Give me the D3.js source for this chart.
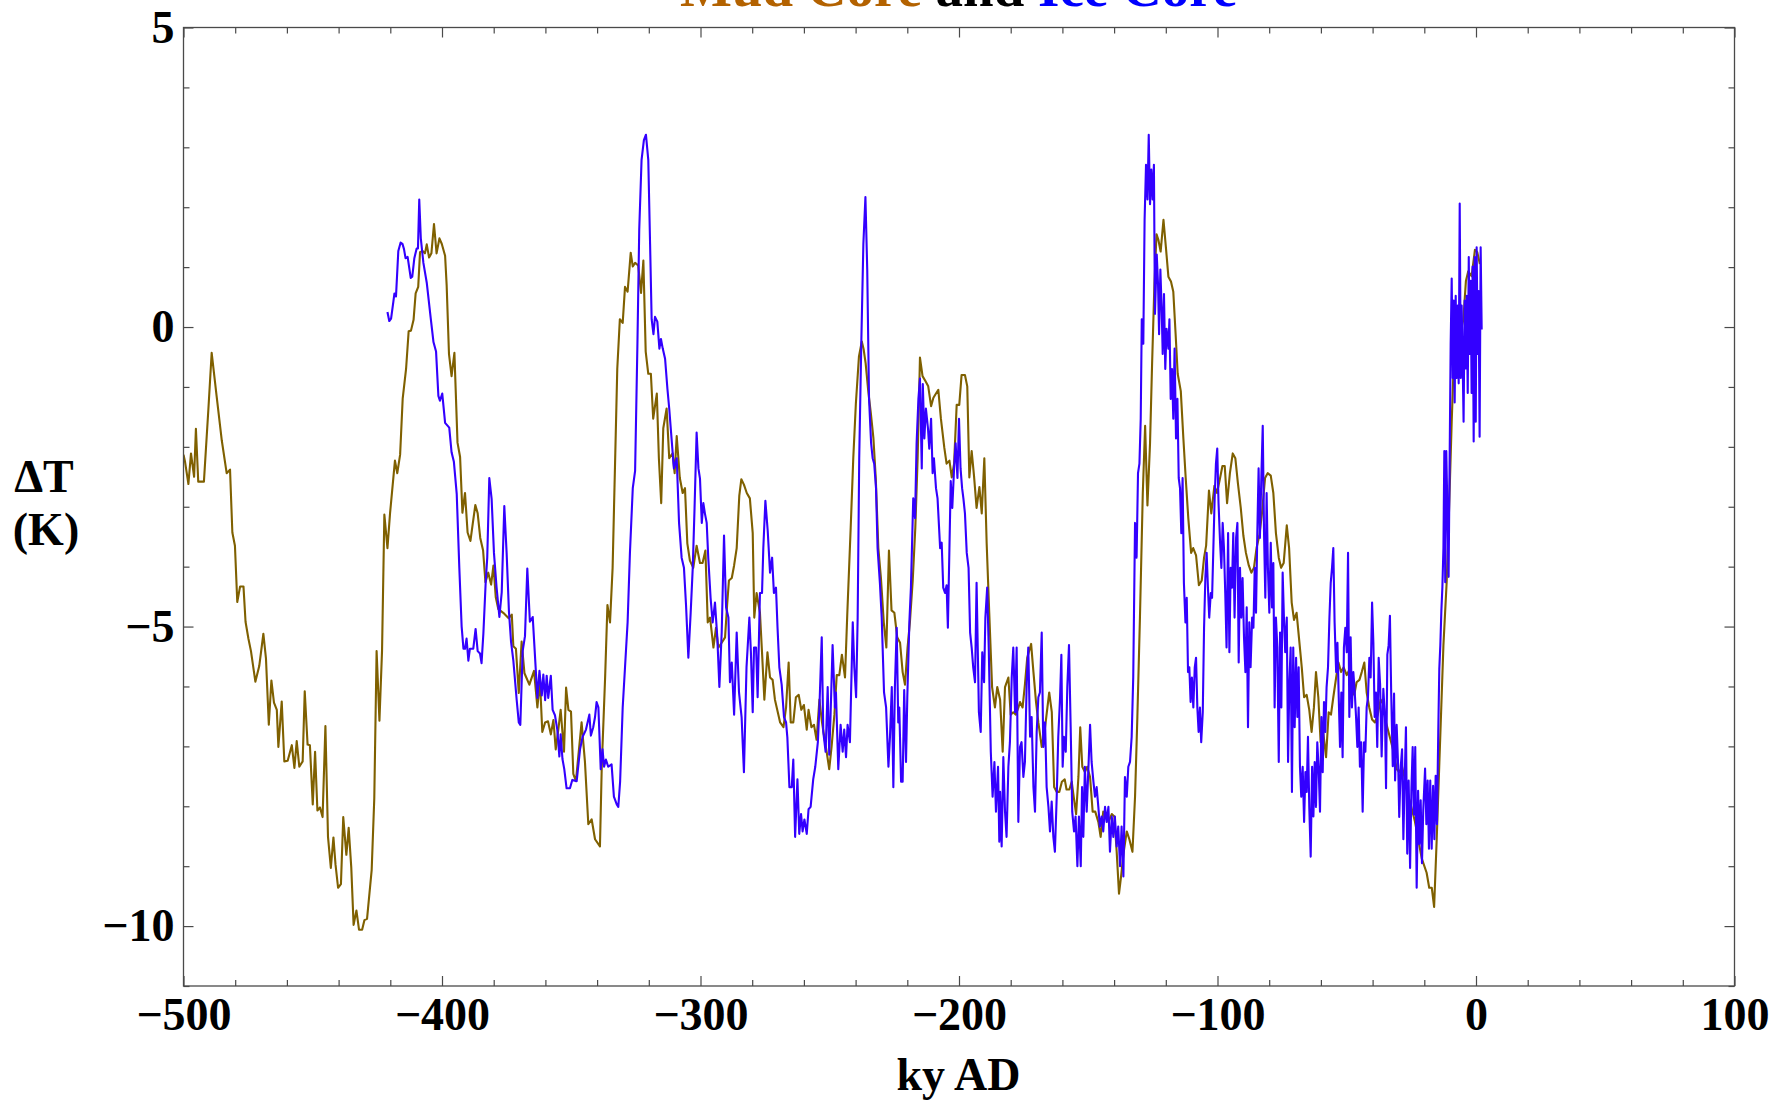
<!DOCTYPE html>
<html><head><meta charset="utf-8">
<script src="https://cdn.jsdelivr.net/npm/d3@7"></script>
<style>
html,body{margin:0;padding:0;background:#fff;overflow:hidden;}
text{font-family:"Liberation Serif","Times New Roman",serif;font-weight:bold;}
</style></head>
<body>
<svg id="chart" width="1784" height="1101"></svg>
<script>
// ---- tick values / labels ----
const xMajor = [-500,-400,-300,-200,-100,0,100];
const xLabels = ["\u2212500","\u2212400","\u2212300","\u2212200","\u2212100","0","100"];
const xMinor = [-480,-460,-440,-420,-380,-360,-340,-320,-280,-260,-240,-220,-180,-160,-140,-120,-80,-60,-40,-20,20,40,60,80];
const yMajor = [-10,-5,0,5];
const yLabels = ["\u221210","\u22125","0","5"];
const yMinor = [-11,-9,-8,-7,-6,-4,-3,-2,-1,1,2,3,4];
const titleParts = [["Mud Core","#b36200"],[" and ","#000000"],["Ice Core","#0000ff"]];

// ---- series: [ky AD, Delta T (K)] ----
const mudCore = [
[-500,-2.13],[-499.4,-2.25],[-498.1,-2.62],[-497.1,-2.11],[-495.9,-2.50],[-495.2,-1.70],[-494.3,-2.58],[-492.1,-2.58],[-490.4,-1.39],[-489.1,-0.43],[-487.2,-1.15],[-485.2,-1.89],[-483.3,-2.44],[-482.0,-2.38],[-481.1,-3.43],[-480.1,-3.65],[-479.2,-4.59],[-478.1,-4.33],[-476.8,-4.33],[-476.0,-4.92],[-474.9,-5.20],[-473.9,-5.41],[-472.2,-5.92],[-470.7,-5.66],[-469.1,-5.12],[-468.1,-5.53],[-467.0,-6.64],[-466.0,-5.90],[-465.0,-6.27],[-463.9,-6.39],[-463.3,-7.01],[-462.0,-6.25],[-461.0,-7.25],[-459.7,-7.24],[-458.1,-6.98],[-457.1,-7.36],[-456.2,-6.91],[-455.2,-7.34],[-453.9,-7.25],[-453.1,-6.08],[-452.0,-6.97],[-451.1,-6.98],[-450.0,-7.97],[-449.1,-7.09],[-448.2,-8.07],[-447.2,-8.02],[-446.2,-8.18],[-445.1,-6.66],[-444.1,-8.51],[-443.0,-9.03],[-442.0,-8.52],[-441.2,-8.97],[-440.2,-9.36],[-439.1,-9.30],[-438.2,-8.18],[-437.0,-8.81],[-436.1,-8.36],[-435.1,-9.02],[-434.2,-9.98],[-433.1,-9.74],[-432.1,-10.06],[-430.9,-10.06],[-430.0,-9.90],[-429.0,-9.88],[-427.2,-9.06],[-426.2,-7.87],[-425.3,-5.41],[-424.2,-6.57],[-423.2,-5.41],[-422.3,-3.13],[-421.1,-3.69],[-420.1,-3.11],[-418.2,-2.23],[-417.3,-2.44],[-416.2,-2.13],[-415.2,-1.19],[-413.9,-0.70],[-412.9,-0.07],[-412.0,-0.06],[-411.0,0.12],[-410.2,0.56],[-409.2,0.67],[-408.5,1.25],[-407.5,1.27],[-406.6,1.23],[-405.9,1.38],[-405.0,1.16],[-404.1,1.23],[-403.1,1.72],[-402.1,1.23],[-401.0,1.48],[-400.1,1.39],[-398.8,1.19],[-398.2,0.70],[-397.3,-0.45],[-396.3,-0.82],[-395.2,-0.43],[-394.0,-1.93],[-393.0,-2.17],[-392.1,-3.10],[-391.1,-2.77],[-390.1,-3.43],[-389.0,-3.57],[-388.1,-3.28],[-387.1,-2.97],[-386.2,-3.11],[-385.2,-3.52],[-384.1,-3.73],[-383.2,-4.26],[-382.1,-4.10],[-381.0,-4.30],[-380.1,-3.98],[-379.2,-4.51],[-378.2,-4.71],[-376.3,-4.77],[-374.2,-4.86],[-373.0,-4.80],[-372.4,-5.33],[-371.4,-5.37],[-370.3,-6.11],[-369.2,-5.25],[-368.1,-5.78],[-366.2,-5.97],[-364.4,-5.74],[-363.1,-6.35],[-362.1,-5.90],[-361.2,-6.76],[-360.1,-6.60],[-359.0,-6.58],[-357.9,-6.80],[-356.9,-6.56],[-356.0,-7.05],[-355.0,-6.72],[-354.1,-6.39],[-352.8,-7.09],[-352.0,-6.02],[-351.1,-6.39],[-350.1,-6.42],[-349.2,-7.46],[-348.2,-7.58],
[-346.0,-6.60],[-344.7,-7.26],[-343.4,-8.30],[-342.1,-8.22],[-340.8,-8.55],[-338.9,-8.67],[-338.2,-7.34],[-336.9,-5.85],[-336.0,-4.64],[-335.0,-4.93],[-334.0,-4.02],[-333.1,-2.36],[-332.2,-0.70],[-331.2,0.13],[-330.1,0.07],[-329.2,0.67],[-328.2,0.59],[-327.0,1.24],[-326.2,1.01],[-325.3,1.07],[-324.1,1.03],[-323.0,0.57],[-322.1,1.11],[-321.2,-0.41],[-320.2,-0.78],[-319.2,-0.78],[-318.3,-1.53],[-316.9,-1.11],[-316.1,-2.19],[-315.2,-2.94],[-314.4,-1.69],[-313.1,-1.36],[-312.1,-2.19],[-310.8,-2.11],[-310.0,-2.44],[-309.2,-1.82],[-308.0,-2.52],[-306.9,-2.77],[-306.0,-2.69],[-305.1,-3.61],[-304.1,-3.90],[-302.8,-4.02],[-301.5,-3.65],[-300.2,-3.94],[-299.2,-3.94],[-298.1,-3.73],[-297.2,-4.93],[-296.3,-4.85],[-295.0,-5.35],[-294.0,-5.02],[-293.1,-5.35],[-291.8,-5.27],[-290.5,-5.18],[-289.7,-4.64],[-289.0,-4.23],[-287.9,-4.19],[-287.0,-3.98],[-286.0,-3.69],[-285.0,-2.82],[-284.2,-2.54],[-283.2,-2.63],[-282.1,-2.77],[-280.9,-2.86],[-279.8,-3.44],[-279.2,-4.85],[-278.3,-4.44],[-277.0,-4.77],[-276.2,-5.43],[-275.3,-6.22],[-274.1,-5.43],[-273.1,-5.85],[-272.1,-5.89],[-271.2,-6.22],[-269.2,-6.60],[-267.9,-6.68],[-266.9,-6.35],[-265.9,-5.60],[-265.1,-6.60],[-264.1,-6.60],[-263.1,-6.18],[-262.0,-6.14],[-261.0,-6.39],[-260.0,-6.31],[-258.9,-6.72],[-258.2,-6.39],[-257.1,-6.68],[-256.1,-6.64],[-255.1,-6.89],[-254.0,-6.22],[-253.0,-6.60],[-252.1,-6.85],[-251.2,-7.09],[-250.2,-7.38],[-249.3,-7.01],[-248.2,-6.47],[-247.3,-5.81],[-246.3,-5.81],[-245.3,-5.47],[-244.1,-5.85],[-243.2,-4.77],[-241.9,-3.35],[-240.9,-2.19],[-239.9,-1.28],[-238.7,-0.49],[-237.6,-0.24],[-236.9,-0.37],[-236.1,-0.61],[-235.1,-1.07],[-234.1,-1.44],[-233.1,-1.86],[-232.2,-2.52],[-231.2,-3.69],[-230.2,-4.19],[-229.1,-4.93],[-228.1,-5.35],[-227.1,-3.73],[-226.1,-4.73],[-225.0,-4.77],[-223.9,-5.18],[-222.8,-5.27],[-221.8,-5.76],[-220.9,-5.97],[-219.9,-5.35],[-219.0,-4.93],[-217.9,-4.23],[-216.9,-3.35],[-216.0,-2.19],[-215.1,-0.51],[-214.1,-0.82],[-213.0,-0.90],[-211.9,-0.99],[-210.8,-1.32],[-209.9,-1.18],[-208.9,-1.11],[-208.0,-1.05],[-207.0,-1.53],[-205.7,-2.01],[-204.8,-2.28],[-203.7,-2.23],[-202.8,-2.51],[-201.9,-2.28],[-200.9,-1.30],[-199.9,-1.30],[-199.0,-0.80],[-197.7,-0.80],[-196.8,-0.99],[-196.0,-2.51],[-195.1,-2.07],[-194.2,-2.48],[-193.2,-3.02],[-192.1,-2.67],[-191.2,-3.11],[-190.2,-2.19],[-189.3,-3.61],[-188.3,-4.77],[-187.2,-6.01],[-186.1,-6.35],[-185.2,-6.01],
[-184.1,-6.22],[-183.1,-7.09],[-182.2,-6.01],[-180.9,-5.85],[-180.0,-6.47],[-179.0,-6.43],[-178.0,-6.47],[-177.0,-6.35],[-176.4,-6.26],[-175.4,-6.35],[-174.5,-5.97],[-173.6,-5.52],[-172.1,-5.29],[-171.2,-5.76],[-170.2,-6.26],[-169.3,-6.60],[-168.0,-7.01],[-166.7,-6.68],[-165.1,-6.10],[-164.1,-6.43],[-163.2,-7.68],[-162.2,-7.76],[-161.2,-7.76],[-160.2,-7.59],[-159.1,-7.55],[-158.4,-7.72],[-157.3,-7.72],[-156.4,-7.59],[-155.5,-7.88],[-154.7,-8.13],[-153.8,-7.51],[-153.1,-6.68],[-152.3,-7.34],[-151.3,-7.43],[-150.4,-7.34],[-149.3,-7.51],[-148.3,-8.09],[-147.3,-8.09],[-146.1,-8.26],[-145.2,-8.51],[-144.2,-8.09],[-143.1,-8.13],[-142.2,-8.26],[-140.9,-8.13],[-139.9,-8.17],[-139.0,-8.76],[-138.1,-9.46],[-137.3,-9.17],[-136.4,-8.80],[-135.1,-8.42],[-134.1,-8.55],[-132.9,-8.76],[-131.9,-7.84],[-131.0,-6.51],[-130.0,-4.85],[-128.9,-2.77],[-128.0,-1.65],[-127.1,-2.98],[-126.1,-1.94],[-125.3,-0.61],[-124.4,0.72],[-123.6,1.55],[-122.9,1.46],[-122.0,1.26],[-120.9,1.79],[-119.9,1.30],[-119.0,0.84],[-118.0,0.76],[-117.1,0.59],[-116.2,-0.12],[-115.4,-0.78],[-114.2,-1.07],[-113.2,-1.86],[-112.3,-2.52],[-111.3,-3.19],[-110.2,-3.77],[-109.4,-3.69],[-108.3,-3.81],[-107.2,-4.31],[-106.1,-4.23],[-105.2,-3.85],[-104.4,-3.65],[-103.3,-2.73],[-102.4,-3.11],[-101.2,-2.65],[-100.2,-2.77],[-99.0,-2.52],[-98.1,-2.32],[-97.2,-2.32],[-96.3,-2.94],[-95.2,-2.44],[-94.1,-2.11],[-93.1,-2.19],[-92.1,-2.61],[-91.0,-3.02],[-90.0,-3.48],[-89.0,-3.77],[-87.9,-3.98],[-86.9,-4.10],[-85.9,-4.02],[-84.9,-3.69],[-83.8,-3.48],[-82.8,-3.11],[-81.6,-2.52],[-80.6,-2.44],[-79.4,-2.48],[-78.4,-2.77],[-77.4,-3.44],[-76.3,-3.85],[-75.4,-4.02],[-74.4,-3.94],[-73.2,-3.31],[-72.3,-3.69],[-71.3,-4.60],[-70.4,-4.89],[-69.4,-4.77],[-68.5,-5.18],[-67.4,-5.68],[-66.5,-6.18],[-65.5,-6.14],[-64.5,-6.39],[-63.6,-6.76],[-62.7,-6.35],[-61.9,-5.76],[-61.0,-6.18],[-60.1,-6.93],[-59.1,-6.76],[-58.0,-7.18],[-57.0,-6.43],[-56.1,-6.47],[-55.2,-6.18],[-54.1,-5.85],[-53.2,-5.60],[-52.2,-5.76],[-51.2,-5.68],[-50.0,-5.81],[-49.0,-5.72],[-48.0,-6.06],[-47.1,-6.14],[-46.2,-5.93],[-45.1,-5.89],[-44.2,-5.76],[-43.2,-5.60],[-42.3,-6.10],[-41.3,-6.35],[-40.2,-6.55],[-39.1,-6.60],[-38.0,-6.47],[-36.9,-6.22],[-35.8,-6.30],[-34.8,-6.60],[-32.6,-6.97],[-31.6,-7.14],[-30.7,-7.38],[-29.7,-7.43],[-28.6,-7.34],[-26.8,-7.68],[-25.8,-7.88],[-24.8,-8.05],[-23.6,-8.26],
[-21.0,-8.87],[-19.1,-9.11],[-18.1,-9.36],[-17.1,-9.36],[-16.2,-9.68],[-15.2,-8.55],[-13.9,-6.93],[-12.6,-5.31],[-11.35,-4.26],[-10.3,-2.88],[-9.4,-1.58],[-8.5,-0.45],[-7.5,-0.29],[-6.2,-0.13],[-4.9,0.12],[-3.9,0.77],[-3.0,0.93],[-1.7,0.85],[-0.4,1.29],[0.5,1.25],[1.5,1.05]
];

const iceCore = [
[-421.1,0.25],[-420.4,0.10],[-419.7,0.14],[-418.8,0.43],[-418.4,0.56],[-417.8,0.51],[-416.9,1.27],[-416.0,1.41],[-415.3,1.39],[-414.7,1.30],[-414.1,1.15],[-413.3,1.17],[-412.1,0.82],[-411.5,0.84],[-410.7,1.15],[-409.8,1.31],[-409.3,1.31],[-408.8,2.13],[-408.2,1.48],[-407.2,1.07],[-405.9,0.74],[-404.4,0.16],[-403.3,-0.25],[-402.3,-0.41],[-401.4,-1.15],[-400.8,-1.23],[-399.9,-1.11],[-398.8,-1.60],[-397.2,-1.68],[-396.3,-2.09],[-395.4,-2.25],[-394.3,-2.79],[-393.3,-4.02],[-392.4,-5.00],[-391.7,-5.37],[-391.1,-5.37],[-390.5,-5.20],[-389.8,-5.57],[-389.2,-5.37],[-387.9,-5.37],[-387.0,-5.04],[-386.2,-5.41],[-385.3,-5.45],[-384.7,-5.61],[-384.0,-5.12],[-383.1,-4.26],[-382.5,-3.85],[-381.7,-2.52],[-380.8,-2.87],[-379.9,-3.77],[-378.9,-4.34],[-377.8,-4.84],[-376.9,-4.43],[-375.9,-2.99],[-375.0,-3.77],[-374.1,-4.75],[-373.3,-5.25],[-372.4,-5.57],[-371.1,-6.23],[-370.3,-6.60],[-369.7,-6.64],[-368.8,-5.41],[-367.9,-5.16],[-367.0,-4.03],[-366.0,-4.92],[-364.9,-4.84],[-364.3,-5.29],[-363.1,-6.19],[-362.3,-5.74],[-361.4,-6.15],[-360.8,-5.80],[-360.1,-6.23],[-359.5,-5.82],[-358.9,-6.19],[-357.9,-5.82],[-357.2,-6.39],[-356.3,-6.48],[-355.4,-6.72],[-354.6,-7.17],[-354.1,-6.80],[-353.4,-7.21],[-352.7,-7.38],[-351.8,-7.70],[-350.5,-7.70],[-349.6,-7.56],[-347.9,-7.58],
[-346.6,-7.05],[-345.6,-6.84],[-344.3,-6.72],[-343.0,-6.47],[-342.4,-6.82],[-341.5,-6.68],[-340.8,-6.51],[-340.2,-6.26],[-339.5,-6.35],[-338.6,-7.38],[-337.9,-7.05],[-337.3,-7.34],[-336.6,-7.22],[-335.7,-7.34],[-334.4,-7.30],[-333.5,-7.84],[-332.4,-7.97],[-331.8,-8.01],[-331.1,-7.59],[-330.1,-6.35],[-329.2,-5.68],[-328.2,-4.93],[-327.3,-3.77],[-326.2,-2.69],[-325.3,-2.40],[-324.4,-0.28],[-323.7,1.63],[-322.8,2.79],[-321.9,3.12],[-321.1,3.21],[-320.2,2.79],[-319.5,1.38],[-318.9,0.13],[-318.2,-0.12],[-317.6,0.17],[-316.7,0.09],[-315.9,-0.36],[-315.3,-0.20],[-314.6,-0.36],[-313.7,-0.53],[-312.8,-1.03],[-312.1,-1.36],[-311.2,-1.86],[-310.3,-2.36],[-309.2,-2.19],[-308.3,-3.27],[-307.3,-3.85],[-306.4,-4.02],[-305.6,-4.64],[-304.7,-5.52],[-303.8,-4.77],[-303.0,-4.02],[-302.3,-3.02],[-301.5,-1.76],[-300.8,-2.36],[-300.2,-2.53],[-299.5,-3.27],[-298.9,-2.94],[-298.3,-3.11],[-297.6,-3.27],[-297.0,-3.85],[-296.1,-4.52],[-295.3,-4.93],[-294.4,-4.60],[-293.5,-5.18],[-292.7,-6.01],[-291.8,-5.10],[-290.9,-3.48],[-290.1,-4.68],[-289.2,-4.85],[-288.6,-5.93],[-287.9,-5.60],[-287.0,-6.47],[-286.0,-5.10],[-285.1,-6.10],[-284.1,-6.51],[-283.2,-7.43],[-282.2,-5.68],[-281.1,-4.85],[-280.5,-5.43],[-279.8,-6.43],[-279.3,-5.35],[-278.5,-5.35],[-277.9,-6.18],[-277.0,-4.44],[-276.2,-4.44],[-275.7,-3.69],[-274.9,-2.90],[-274.0,-3.40],[-273.1,-4.10],[-272.3,-3.85],[-271.6,-4.44],[-270.8,-4.35],[-270.2,-5.02],[-269.5,-5.68],[-268.6,-5.97],[-267.7,-6.51],[-266.9,-6.60],[-266.4,-6.85],[-265.6,-7.68],[-264.7,-7.68],[-264.1,-7.22],[-263.4,-8.51],[-262.5,-7.55],[-261.8,-8.46],[-261.1,-8.13],[-260.5,-8.42],[-259.8,-8.22],[-258.9,-8.46],[-258.2,-8.05],[-257.4,-8.01],[-256.4,-7.55],[-255.6,-7.34],[-254.6,-6.93],[-254.0,-6.35],[-253.1,-5.18],[-252.5,-6.76],[-251.6,-7.09],[-250.8,-6.01],[-250.2,-7.14],[-249.7,-6.51],[-248.9,-5.31],[-248.0,-6.35],[-247.6,-6.10],[-246.7,-7.38],[-245.8,-6.64],[-245.0,-7.09],[-244.4,-6.72],[-243.7,-7.18],[-243.1,-6.64],[-242.2,-6.93],[-241.1,-4.93],[-240.5,-5.68],[-239.8,-6.18],[-239.2,-4.85],[-238.6,-2.19],[-237.8,-0.28],[-237.0,1.38],[-236.2,2.17],[-235.5,0.96],[-234.8,-1.20],[-234.0,-1.94],[-233.4,-2.19],[-232.8,-2.28],[-232.1,-2.69],[-231.5,-3.69],[-230.6,-4.27],[-229.9,-4.85],[-229.0,-6.10],[-228.2,-6.35],[-227.3,-7.34],[-226.7,-6.84],[-226.0,-6.01],[-225.4,-7.68],[-224.8,-6.01],[-224.1,-5.02],[-223.5,-6.60],[-223.1,-6.35],[-222.4,-7.59],[-221.8,-7.59],[-221.2,-6.06],[-220.5,-7.26],[-220.0,-6.18],[-219.2,-4.93],[-218.6,-4.35],[-217.7,-2.86],[-217.0,-3.19],[-216.4,-1.94],[-215.7,-1.20],[-215.1,-0.86],[-214.4,-2.36],[-214.0,-0.95],[-213.4,-1.86],[-212.8,-1.36],[-212.0,-1.69],[-211.5,-2.03],[-210.8,-1.53],[-210.2,-2.44],[-209.7,-2.19],[-208.9,-2.69],[-208.3,-2.86],[-207.3,-3.69],[-206.7,-3.60],[-206.1,-4.35],[-205.4,-4.44],[-204.8,-4.31],[-204.3,-5.02],[-203.7,-3.69],[-203.2,-2.57],[-202.6,-3.02],[-201.9,-2.36],[-201.3,-1.94],[-200.6,-2.52],[-200.0,-1.53],[-199.4,-2.36],[-198.8,-2.69],[-198.3,-2.86],[-197.7,-3.11],[-197.0,-3.77],[-196.3,-4.02],[-195.7,-5.10],[-195.1,-5.35],[-194.5,-5.68],[-193.8,-5.93],[-193.2,-4.27],[-192.3,-6.43],[-191.6,-6.76],[-191.0,-5.43],[-190.3,-5.93],[-189.8,-4.85],[-189.1,-4.35],[-188.5,-5.35],[-187.7,-7.09],[-187.0,-7.84],[-186.3,-7.26],[-185.7,-8.09],[-184.9,-7.34],[-184.4,-8.59],
[-184.1,-7.76],[-183.5,-8.67],[-182.85,-7.18],[-182.2,-8.09],[-181.6,-8.51],[-180.9,-7.34],[-180.3,-6.93],[-179.6,-5.85],[-179.0,-5.35],[-178.3,-6.43],[-177.7,-5.35],[-177.05,-8.26],[-176.4,-7.01],[-175.8,-6.93],[-175.1,-7.51],[-174.5,-7.26],[-173.8,-5.93],[-173.2,-5.35],[-172.5,-6.84],[-171.9,-6.51],[-171.2,-7.68],[-170.6,-8.09],[-169.95,-6.76],[-169.3,-6.18],[-168.7,-6.10],[-168.0,-5.10],[-167.4,-7.01],[-166.7,-6.60],[-166.1,-7.68],[-165.4,-8.01],[-164.8,-8.42],[-164.15,-7.92],[-163.5,-8.51],[-162.9,-8.76],[-162.2,-7.84],[-161.6,-6.84],[-160.9,-6.18],[-160.4,-5.47],[-159.9,-7.34],[-159.4,-6.84],[-158.7,-7.09],[-158.1,-6.01],[-157.45,-5.31],[-156.8,-6.68],[-156.2,-8.09],[-155.5,-8.42],[-154.9,-8.17],[-154.2,-9.00],[-153.6,-8.17],[-152.9,-9.00],[-152.4,-7.68],[-151.9,-8.51],[-151.3,-7.34],[-150.6,-8.09],[-150.0,-7.43],[-149.3,-6.64],[-148.7,-7.26],[-148.0,-7.59],[-147.4,-7.84],[-146.75,-7.68],[-146.1,-8.01],[-145.5,-8.34],[-144.8,-8.17],[-144.2,-8.42],[-143.5,-8.01],[-142.9,-8.26],[-142.2,-8.01],[-141.6,-8.76],[-140.9,-8.17],[-140.3,-8.51],[-139.7,-8.17],[-139.0,-8.67],[-138.4,-8.34],[-137.7,-9.00],[-137.1,-8.34],[-136.4,-9.17],[-135.8,-7.51],[-135.1,-7.84],[-134.5,-7.34],[-133.85,-7.26],[-133.2,-6.84],[-132.6,-5.85],[-131.9,-3.27],[-131.3,-3.85],[-130.75,-2.44],[-130.2,-2.28],[-129.7,-1.53],[-129.3,0.13],[-128.7,-0.28],[-128.2,1.80],[-127.65,2.71],[-127.1,2.13],[-126.6,3.21],[-126.1,2.05],[-125.6,2.63],[-125.1,2.13],[-124.6,2.71],[-124.2,0.22],[-123.5,1.21],[-123.0,0.71],[-122.6,-0.12],[-122.1,0.96],[-121.6,0.30],[-121.2,-0.45],[-120.7,0.55],[-120.2,-0.70],[-119.7,-0.03],[-119.0,-0.36],[-118.6,0.13],[-118.1,-1.20],[-117.6,-0.70],[-117.1,-1.53],[-116.6,-0.36],[-116.05,-1.86],[-115.5,-1.20],[-115.0,-2.52],[-114.5,-2.69],[-114.0,-3.44],[-113.5,-2.52],[-113.0,-4.27],[-112.4,-4.93],[-111.9,-4.52],[-111.4,-5.76],[-110.9,-5.68],[-110.4,-6.26],[-109.9,-5.85],[-109.35,-6.35],[-108.8,-5.68],[-108.3,-5.52],[-107.8,-6.35],[-107.3,-6.76],[-106.8,-6.35],[-106.3,-6.93],[-105.7,-6.43],[-105.2,-5.02],[-104.7,-4.19],[-104.2,-3.77],[-103.7,-4.35],[-103.2,-4.85],[-102.6,-4.44],[-102.1,-4.52],[-101.6,-3.69],[-101.1,-2.86],[-100.6,-2.28],[-100.1,-2.03],[-99.6,-2.94],[-99.0,-3.60],[-98.5,-4.02],[-98.0,-3.27],[-97.5,-3.69],[-97.0,-4.44],[-96.5,-5.35],[-95.9,-3.44],[-95.4,-5.43],[-94.9,-4.02],[-94.4,-4.35],[-93.9,-3.44],[-93.4,-4.85],[-92.8,-3.52],[-92.3,-3.27],[-91.8,-5.60],[-91.3,-4.02],[-90.8,-4.85],[-90.3,-4.19],[-89.75,-5.18],[-89.2,-5.76],[-88.7,-4.68],[-88.2,-6.68],[-87.7,-4.93],[-87.2,-5.68],[-86.6,-4.85],[-86.1,-5.02],[-85.6,-4.02],[-85.1,-4.77],[-84.6,-3.44],[-84.1,-2.36],[-83.6,-3.52],[-83.0,-2.44],[-82.5,-1.65],[-82.0,-3.44],[-81.5,-4.52],[-81.0,-2.77],[-80.5,-4.02],[-79.95,-4.77],[-79.4,-3.60],[-78.9,-4.68],[-78.4,-3.94],[-77.9,-6.35],[-77.4,-4.85],[-76.85,-5.35],[-76.3,-7.26],[-75.8,-5.10],[-75.3,-6.35],[-74.8,-4.10],[-74.3,-4.85],[-73.8,-5.43],[-73.2,-4.85],[-72.7,-7.26],[-72.2,-5.93],[-71.7,-5.35],[-71.2,-7.76],[-70.7,-5.35],[-70.15,-6.68],[-69.6,-5.52],[-69.1,-6.51],[-68.6,-5.68],[-68.1,-7.34],[-67.6,-7.84],[-67.05,-7.34],[-66.5,-8.26],[-66.0,-7.43],[-65.5,-7.76],[-65.0,-6.84],[-64.5,-8.01],[-63.95,-8.84],[-63.4,-7.34],[-62.9,-8.17],[-62.4,-7.26],[-61.9,-8.01],[-61.4,-6.93],[-60.9,-7.34],[-60.35,-8.09],[-59.8,-6.51],[-59.3,-7.43],[-58.8,-6.26],[-58.3,-6.76],[-57.8,-6.01],[-57.25,-5.68],[-56.7,-4.85],[-56.2,-4.27],[-55.7,-4.02],[-55.2,-3.69],[-54.7,-4.93],[-54.1,-5.76],[-53.6,-5.27],[-53.1,-6.18],[-52.6,-7.01],[-52.1,-6.10],[-51.6,-7.18],[-51.1,-5.35],[-50.55,-5.02],[-50.0,-5.43],[-49.5,-3.77],[-49.0,-6.51],[-48.5,-5.18],[-48.0,-6.35],[-47.45,-5.76],[-46.9,-6.10],[-46.4,-6.51],[-45.9,-7.01],[-45.4,-6.35],[-44.9,-7.34],[-44.4,-6.93],[-43.85,-8.09],[-43.3,-6.93],[-42.8,-7.09],[-42.3,-6.35],[-41.8,-6.18],[-41.25,-5.52],[-40.75,-5.85],[-40.2,-4.60],[-39.7,-5.27],[-39.2,-6.51],[-38.7,-6.10],[-38.2,-7.01],[-37.65,-5.52],
[-37.1,-5.96],[-36.5,-7.17],[-35.85,-6.04],[-35.2,-6.52],[-34.8,-7.70],[-34.3,-5.47],[-33.8,-5.31],[-33.3,-4.82],[-32.8,-6.12],[-32.2,-7.33],[-31.7,-6.12],[-31.3,-7.57],[-30.7,-6.64],[-30.05,-7.41],[-29.7,-8.18],[-29.1,-7.33],[-28.6,-7.05],[-28.1,-8.55],[-27.6,-7.57],[-27.1,-6.68],[-26.6,-8.79],[-26.05,-7.57],[-25.5,-9.03],[-25.0,-7.74],[-24.5,-7.01],[-24.0,-8.14],[-23.5,-7.01],[-22.95,-9.36],[-22.4,-7.74],[-21.9,-8.63],[-21.4,-7.90],[-20.9,-8.95],[-20.4,-8.06],[-19.7,-7.37],[-19.2,-8.30],[-18.7,-7.57],[-18.2,-8.71],[-17.7,-7.57],[-17.15,-8.71],[-16.6,-7.66],[-16.1,-8.55],[-15.6,-7.49],[-15.1,-8.30],[-14.6,-6.77],[-14.2,-5.71],[-13.8,-5.31],[-13.4,-4.74],[-13.0,-4.34],[-12.6,-3.69],[-12.25,-2.07],[-11.9,-4.26],[-11.5,-2.07],[-11.0,-3.20],[-10.6,-4.17],[-10.2,-2.23],[-9.8,-0.29],[-9.4,0.81],[-9.0,-0.85],[-8.6,0.44],[-8.25,-1.26],[-7.85,0.52],[-7.5,-0.85],[-7.1,0.36],[-6.7,-0.94],[-6.3,2.06],[-5.9,-0.85],[-5.55,0.36],[-5.15,-0.61],[-4.8,-1.58],[-4.4,0.44],[-4.0,-0.69],[-3.6,0.52],[-3.2,-1.10],[-2.8,1.17],[-2.45,-0.45],[-2.05,0.77],[-1.7,-1.10],[-1.3,1.01],[-0.9,-1.91],[-0.5,1.17],[-0.1,-1.58],[0.25,1.33],[0.65,-0.45],[1.0,0.60],[1.4,-1.83],[1.8,1.33],[2.2,-0.04]
];

// ---- drawing ----
const svg = d3.select("#chart");
const x = d3.scaleLinear().domain([-500,100]).range([183.5,1734.5]);
const y = d3.scaleLinear().domain([-11,5]).range([986,27.5]);
const frameColor = "#4a4a4a";
const FS = 46;

const line = d3.line().x(d=>x(d[0])).y(d=>y(d[1]));
svg.append("defs").append("clipPath").attr("id","clip")
  .append("rect").attr("x",x(-500)).attr("y",y(5)).attr("width",x(100)-x(-500)).attr("height",y(-11)-y(5));

const plot = svg.append("g").attr("clip-path","url(#clip)");
plot.append("path").datum(mudCore).attr("d",line)
  .attr("fill","none").attr("stroke","#7f6000").attr("stroke-width",2.1).attr("stroke-linejoin","round");
plot.append("path").datum(iceCore).attr("d",line)
  .attr("fill","none").attr("stroke","#3300ff").attr("stroke-width",2.1).attr("stroke-linejoin","round");

// frame
svg.append("rect").attr("x",x(-500)).attr("y",y(5)).attr("width",x(100)-x(-500)).attr("height",y(-11)-y(5))
  .attr("fill","none").attr("stroke",frameColor).attr("stroke-width",1.3);

function styleAxis(g){
  g.select(".domain").remove();
  g.selectAll(".tick line").attr("stroke",frameColor).attr("stroke-width",1.2);
  g.selectAll("text").attr("fill","#000").style("font-size",FS+"px")
    .style("font-family","'Liberation Serif','Times New Roman',serif").style("font-weight","bold");
}
const fmtX = d => xLabels[xMajor.indexOf(d)];
const fmtY = d => yLabels[yMajor.indexOf(d)];

// bottom
svg.append("g").attr("transform",`translate(0,${y(-11)})`)
  .call(d3.axisBottom(x).tickValues(xMajor).tickSizeInner(-10).tickSizeOuter(0).tickPadding(11).tickFormat(fmtX)).call(styleAxis);
svg.append("g").attr("transform",`translate(0,${y(-11)})`)
  .call(d3.axisBottom(x).tickValues(xMinor).tickSizeInner(-6).tickSizeOuter(0).tickFormat("")).call(styleAxis);
// top
svg.append("g").attr("transform",`translate(0,${y(5)})`)
  .call(d3.axisTop(x).tickValues(xMajor).tickSizeInner(-10).tickSizeOuter(0).tickFormat("")).call(styleAxis);
svg.append("g").attr("transform",`translate(0,${y(5)})`)
  .call(d3.axisTop(x).tickValues(xMinor).tickSizeInner(-6).tickSizeOuter(0).tickFormat("")).call(styleAxis);
// left
svg.append("g").attr("transform",`translate(${x(-500)},0)`)
  .call(d3.axisLeft(y).tickValues(yMajor).tickSizeInner(-10).tickSizeOuter(0).tickPadding(9).tickFormat(fmtY)).call(styleAxis);
svg.append("g").attr("transform",`translate(${x(-500)},0)`)
  .call(d3.axisLeft(y).tickValues(yMinor).tickSizeInner(-6).tickSizeOuter(0).tickFormat("")).call(styleAxis);
// right
svg.append("g").attr("transform",`translate(${x(100)},0)`)
  .call(d3.axisRight(y).tickValues(yMajor).tickSizeInner(-10).tickSizeOuter(0).tickFormat("")).call(styleAxis);
svg.append("g").attr("transform",`translate(${x(100)},0)`)
  .call(d3.axisRight(y).tickValues(yMinor).tickSizeInner(-6).tickSizeOuter(0).tickFormat("")).call(styleAxis);

// title (partly cut off at top, as in the original)
const title = svg.append("text").attr("x",958.5).attr("y",6).attr("text-anchor","middle")
  .style("font-size","55px");
titleParts.forEach(p => title.append("tspan").attr("fill",p[1]).text(p[0]));

// axis labels
svg.append("text").attr("x",44).attr("y",492).attr("text-anchor","middle").style("font-size",FS+"px").text("\u0394T");
svg.append("text").attr("x",46).attr("y",545).attr("text-anchor","middle").style("font-size",FS+"px").text("(K)");
svg.append("text").attr("x",958.5).attr("y",1090).attr("text-anchor","middle").style("font-size",FS+"px").text("ky AD");
</script>
</body></html>
